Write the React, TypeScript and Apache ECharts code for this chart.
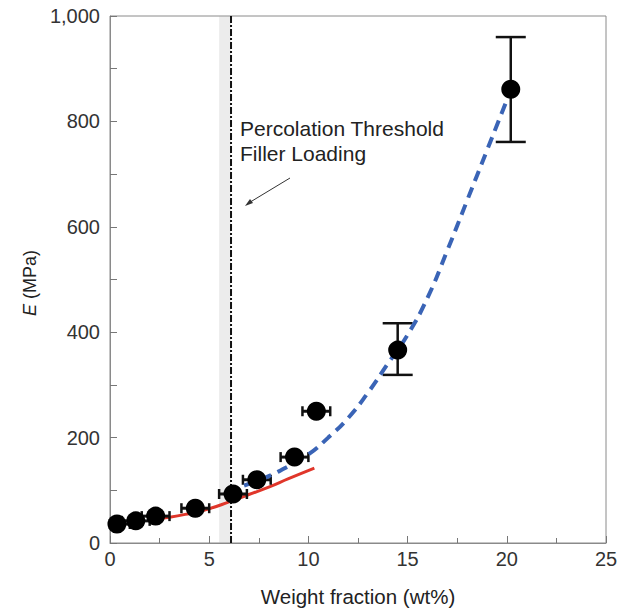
import React, { useEffect, useRef } from "react";
import * as echarts from "echarts";

// Measured points (wt%, E in MPa)
const wt = [0.35, 1.3, 2.3, 4.3, 6.2, 7.4, 9.3, 10.4, 14.5, 20.2];
const modulus = [36, 42, 51, 66, 93, 120, 163, 250, 366, 861];
const eLow = [28, 34, 43, 55, 84, 111, 155, 241, 319, 761];
const eHigh = [44, 50, 59, 77, 102, 129, 171, 259, 417, 960];
const wtLow = [0, 0.6, 1.6, 3.6, 5.5, 6.7, 8.6, 9.7, 14.5, 20.2];
const wtHigh = [1.0, 2.0, 3.0, 5.0, 6.9, 8.1, 10.0, 11.1, 14.5, 20.2];

// Red model curve
const redX = [2, 3, 4, 5, 6, 7, 8, 9, 10.3];
const redY = [45, 49, 56, 65, 78, 92, 106, 122, 142];

// Blue dashed model curve
const blueX = [5.9, 7, 8, 9, 10, 11, 12, 13, 14, 15, 16, 17, 18, 19, 20];
const blueY = [98, 112, 127, 146, 168, 200, 237, 285, 340, 395, 465, 555, 650, 745, 840];

// Percolation threshold
const thresholdX = 6.1;
const bandFrom = 5.5;

const xTicks = [0, 5, 10, 15, 20, 25];
const yTicks = [0, 200, 400, 600, 800, 1000];

const FONT = "'Liberation Sans', Arial, Helvetica, sans-serif";

export default function App() {
  const ref = useRef<HTMLDivElement>(null);
  useEffect(() => {
    document.body.style.margin = "0";
    if (!ref.current) return;
    const chart = echarts.init(ref.current, null, { renderer: "svg" });
    const errData = wt.map((x, i) => [x, modulus[i], eLow[i], eHigh[i], wtLow[i], wtHigh[i]]);
    chart.setOption({
      animation: false,
      backgroundColor: "#ffffff",
      grid: {
        left: 110,
        right: 15,
        top: 16,
        bottom: 69,
        show: true,
        borderColor: "#8a8a8a",
        borderWidth: 1,
        backgroundColor: "transparent",
      },
      xAxis: {
        type: "value",
        min: xTicks[0],
        max: xTicks[xTicks.length - 1],
        interval: 5,
        axisLine: { show: true, lineStyle: { color: "#8a8a8a", width: 1 } },
        axisTick: { show: true, inside: true, length: 7, lineStyle: { color: "#777" } },
        minorTick: { show: true, splitNumber: 2, length: 5, lineStyle: { color: "#777" } },
        splitLine: { show: false },
        axisLabel: { color: "#333", fontSize: 20, fontFamily: FONT, margin: 6 },
        name: "Weight fraction (wt%)",
        nameLocation: "middle",
        nameGap: 43,
        nameTextStyle: { color: "#222", fontSize: 20.5, fontFamily: FONT },
      },
      yAxis: {
        type: "value",
        min: yTicks[0],
        max: yTicks[yTicks.length - 1],
        interval: 200,
        axisLine: { show: true, lineStyle: { color: "#8a8a8a", width: 1 } },
        axisTick: { show: true, inside: true, length: 7, lineStyle: { color: "#777" } },
        minorTick: { show: true, splitNumber: 2, length: 7, lineStyle: { color: "#777" } },
        splitLine: { show: false },
        axisLabel: {
          color: "#333",
          fontSize: 20,
          fontFamily: FONT,
          margin: 10,
          formatter: (v: number) => v.toLocaleString("en-US"),
        },
      },
      graphic: [
        {
          type: "text",
          x: 30,
          y: 283,
          rotation: Math.PI / 2,
          style: {
            text: "{i|E} (MPa)",
            fill: "#222",
            font: `18px ${FONT}`,
            align: "center",
            verticalAlign: "middle",
            rich: {
              i: { fontStyle: "italic", fontSize: 18, fontFamily: FONT, fill: "#222" },
            },
          },
        },
        {
          type: "text",
          x: 240,
          y: 128,
          style: {
            text: "Percolation Threshold",
            fill: "#222",
            font: `21px ${FONT}`,
            verticalAlign: "middle",
          },
        },
        {
          type: "text",
          x: 240,
          y: 153,
          style: {
            text: "Filler Loading",
            fill: "#222",
            font: `21px ${FONT}`,
            verticalAlign: "middle",
          },
        },
        {
          type: "line",
          shape: { x1: 290, y1: 178, x2: 247, y2: 204 },
          style: { stroke: "#333", lineWidth: 1 },
        },
        {
          type: "polygon",
          shape: { points: [[245, 206], [250, 199], [253, 203]] },
          style: { fill: "#333" },
        },
      ],
      series: [
        {
          type: "line",
          data: [[thresholdX, 0], [thresholdX, 1000]],
          symbol: "none",
          lineStyle: { color: "#111", width: 2, type: [7, 2, 2, 2] },
          markArea: {
            silent: true,
            itemStyle: { color: "rgba(170,170,170,0.22)" },
            data: [[{ xAxis: bandFrom }, { xAxis: thresholdX }]],
          },
          z: 2,
        },
        {
          type: "line",
          data: redX.map((x, i) => [x, redY[i]]),
          symbol: "none",
          smooth: true,
          lineStyle: { color: "#e0362a", width: 3 },
          z: 3,
        },
        {
          type: "line",
          data: blueX.map((x, i) => [x, blueY[i]]),
          symbol: "none",
          smooth: true,
          lineStyle: { color: "#3a64b6", width: 4, type: [11, 7] },
          z: 5,
        },
        {
          type: "custom",
          data: errData,
          z: 4,
          renderItem: (params: any, api: any) => {
            const x = api.value(0);
            const y = api.value(1);
            const lo = api.coord([x, api.value(2)]);
            const hi = api.coord([x, api.value(3)]);
            const l = api.coord([api.value(4), y]);
            const r = api.coord([api.value(5), y]);
            const style = { stroke: "#111", lineWidth: 2.5 };
            const children: any[] = [];
            const big = hi[1] - lo[1] < -30;
            const capW = big ? 15 : 0;
            children.push({ type: "line", shape: { x1: lo[0], y1: lo[1], x2: hi[0], y2: hi[1] }, style });
            if (big) {
              children.push({ type: "line", shape: { x1: lo[0] - capW, y1: lo[1], x2: lo[0] + capW, y2: lo[1] }, style });
              children.push({ type: "line", shape: { x1: hi[0] - capW, y1: hi[1], x2: hi[0] + capW, y2: hi[1] }, style });
            }
            if (r[0] - l[0] > 2) {
              children.push({ type: "line", shape: { x1: l[0], y1: l[1], x2: r[0], y2: r[1] }, style: { stroke: "#111", lineWidth: 3 } });
              children.push({ type: "line", shape: { x1: l[0], y1: l[1] - 5, x2: l[0], y2: l[1] + 5 }, style });
              children.push({ type: "line", shape: { x1: r[0], y1: r[1] - 5, x2: r[0], y2: r[1] + 5 }, style });
            }
            return { type: "group", children };
          },
        },
        {
          type: "scatter",
          data: wt.map((x, i) => [x, modulus[i]]),
          symbol: "circle",
          symbolSize: 19,
          itemStyle: { color: "#000", opacity: 1 },
          z: 6,
        },
      ],
    });
    return () => chart.dispose();
  }, []);
  return <div ref={ref} style={{ width: 621, height: 612 }} />;
}
